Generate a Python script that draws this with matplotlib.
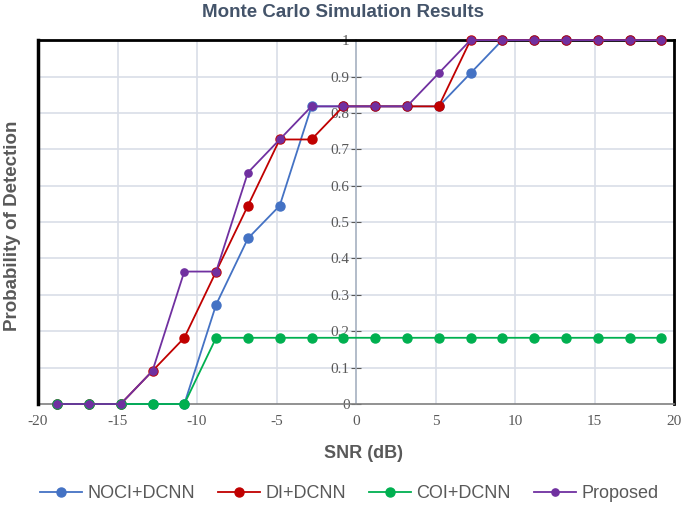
import matplotlib.pyplot as plt
import numpy as np

plt.rcParams["axes.unicode_minus"] = False

# SNR points
snr = [-18.8, -16.8, -14.8, -12.8, -10.8, -8.8, -6.8, -4.8, -2.8, -0.8,
       1.2, 3.2, 5.2, 7.2, 9.2, 11.2, 13.2, 15.2, 17.2, 19.2]

noci_dcnn = [0, 0, 0, 0, 0, 0.273, 0.455, 0.545, 0.818, 0.818,
             0.818, 0.818, 0.818, 0.909, 1, 1, 1, 1, 1, 1]
di_dcnn = [0, 0, 0, 0.091, 0.182, 0.364, 0.545, 0.727, 0.727, 0.818,
           0.818, 0.818, 0.818, 1, 1, 1, 1, 1, 1, 1]
coi_dcnn = [0, 0, 0, 0, 0, 0.182, 0.182, 0.182, 0.182, 0.182,
            0.182, 0.182, 0.182, 0.182, 0.182, 0.182, 0.182, 0.182, 0.182, 0.182]
proposed = [0, 0, 0, 0.091, 0.364, 0.364, 0.636, 0.727, 0.818, 0.818,
            0.818, 0.818, 0.909, 1, 1, 1, 1, 1, 1, 1]

series = [
    ("NOCI+DCNN", noci_dcnn, "#4472C4", 6.5),
    ("DI+DCNN", di_dcnn, "#C00000", 6.5),
    ("COI+DCNN", coi_dcnn, "#00B050", 6.5),
    ("Proposed", proposed, "#7030A0", 5.2),
]

x_ticks = [-20, -15, -10, -5, 0, 5, 10, 15, 20]
y_ticks = [0, 0.1, 0.2, 0.3, 0.4, 0.5, 0.6, 0.7, 0.8, 0.9, 1]
y_tick_labels = ["0", "0.1", "0.2", "0.3", "0.4", "0.5", "0.6", "0.7", "0.8", "0.9", "1"]

text_gray = "#595959"
grid_col = "#D9DEE8"

fig = plt.figure(figsize=(6.85, 5.08), dpi=100)
ax = fig.add_axes([0.0555, 0.2047, 0.9285, 0.7163])

for name, vals, col, ms in series:
    ax.plot(snr, vals, color=col, lw=1.3, marker="o", markersize=ms,
            markeredgecolor=col, label=name, clip_on=False, zorder=3)

ax.set_xlim(-20, 20)
ax.set_ylim(0, 1)

# gridlines (skip x=0, the axis line sits there)
for xv in [-15, -10, -5, 5, 10, 15]:
    ax.axvline(xv, color=grid_col, lw=1.2, zorder=0)
for yv in y_ticks[1:-1]:
    ax.axhline(yv, color=grid_col, lw=1.2, zorder=0)

# y axis crossing at x = 0
ax.spines["left"].set_position(("data", 0))
ax.spines["left"].set_color("#A6B0C0")
ax.spines["left"].set_linewidth(1.2)
ax.spines["bottom"].set_color("#7F7F7F")
ax.spines["bottom"].set_linewidth(1.2)
for s in ["top", "right"]:
    ax.spines[s].set_color("black")
    ax.spines[s].set_linewidth(2)
ax.axvline(-20, color="black", lw=2.5, clip_on=False, zorder=4)

ax.set_yticks(y_ticks)
ax.set_yticklabels(y_tick_labels)
ax.set_xticks(x_ticks)
ax.tick_params(axis="y", direction="inout", length=7, color=text_gray,
               labelcolor=text_gray, labelsize=11, pad=1)
ax.tick_params(axis="x", length=0, labelcolor=text_gray, labelsize=11, pad=8)
for lab in ax.get_xticklabels() + ax.get_yticklabels():
    lab.set_fontfamily("Liberation Serif")

fig.text(0.5, 0.976, "Monte Carlo Simulation Results", ha="center", va="center",
         fontsize=13.5, fontweight="bold", color="#44546A", family="Liberation Sans")
fig.text(0.53, 0.108, "SNR (dB)", ha="center", va="center",
         fontsize=13, fontweight="bold", color=text_gray, family="Liberation Sans")
fig.text(0.018, 0.555, "Probability of Detection", ha="center", va="center",
         rotation=90, fontsize=13.5, fontweight="bold", color=text_gray,
         family="Liberation Sans")

leg = fig.legend(loc="center", bbox_to_anchor=(0.51, 0.028), ncol=4, frameon=False,
                 handlelength=2.3, columnspacing=1.3, handletextpad=0.3,
                 prop={"family": "Liberation Sans", "size": 13})
for t in leg.get_texts():
    t.set_color(text_gray)

fig.savefig("out.png", dpi=100)
